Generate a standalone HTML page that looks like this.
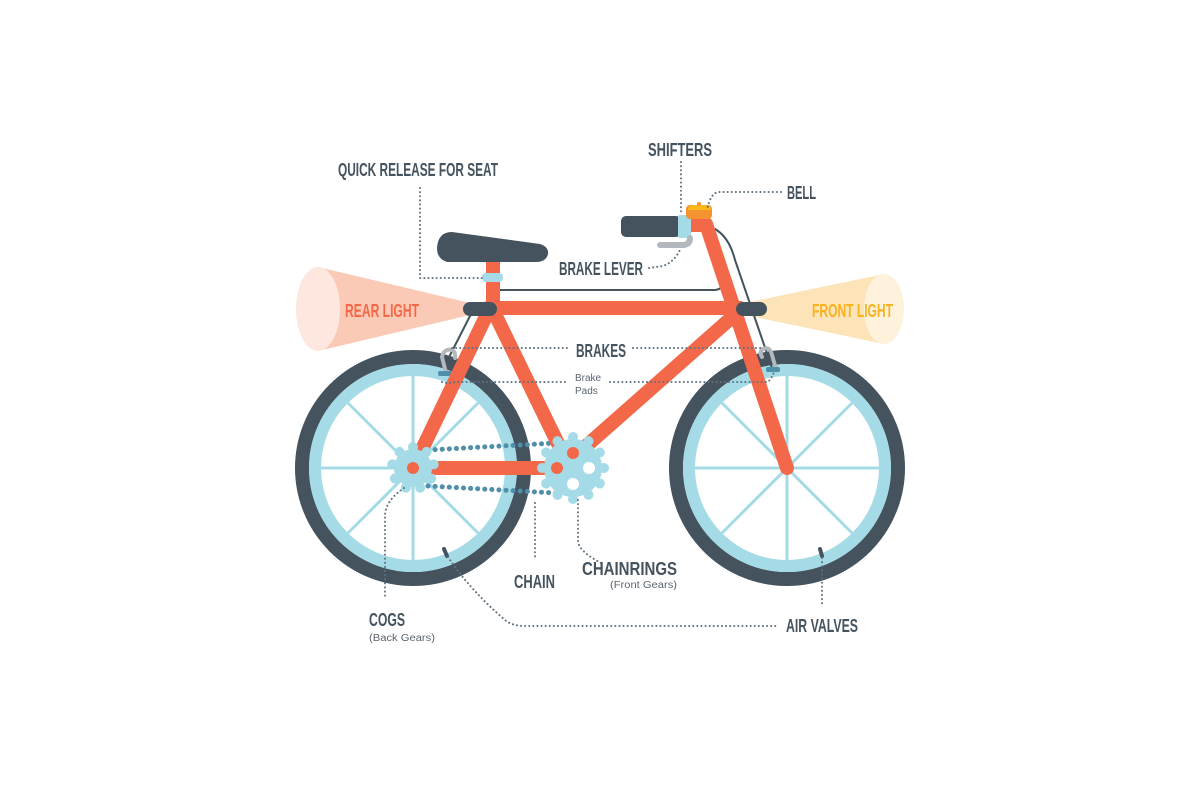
<!DOCTYPE html>
<html><head><meta charset="utf-8"><style>
html,body{margin:0;padding:0;background:#fff;}
svg{display:block}
.l{font-family:"Liberation Sans Narrow","Liberation Sans",sans-serif;font-weight:bold;fill:#44535e;font-size:18px}
.s{font-family:"Liberation Sans",sans-serif;fill:#5a6570;font-size:10px}
.d{fill:none;stroke:#5f7280;stroke-width:2;stroke-dasharray:0.1 4;stroke-linecap:round}
</style></head><body>
<svg width="1200" height="800" viewBox="0 0 1200 800" xmlns="http://www.w3.org/2000/svg">
<defs>
<circle id="t1" cx="413" cy="447" r="5" fill="#a4dbe6"/>
<circle id="t2" cx="573" cy="437" r="5" fill="#a4dbe6"/>
</defs>
<!-- lights -->
<polygon points="318,267 470,303 470,315 318,351" fill="#fbcab6"/>
<ellipse cx="318" cy="309" rx="22" ry="42" fill="#fde7df"/>
<polygon points="884,274 745,303 745,315 884,344" fill="#fde4b8"/>
<ellipse cx="884" cy="309" rx="20" ry="35" fill="#fff2dc"/>
<text class="l" x="345" y="317" textLength="74" lengthAdjust="spacingAndGlyphs" style="fill:#f26849">REAR LIGHT</text>
<text class="l" x="812" y="317" textLength="81" lengthAdjust="spacingAndGlyphs" style="fill:#f7b21d">FRONT LIGHT</text>

<!-- wheels -->
<g>
<circle cx="413" cy="468" r="111" fill="none" stroke="#44535e" stroke-width="14"/>
<circle cx="413" cy="468" r="98" fill="none" stroke="#a4dbe6" stroke-width="12"/>
<g stroke="#a4dbe6" stroke-width="3">
<line x1="321" y1="468" x2="505" y2="468"/><line x1="413" y1="376" x2="413" y2="560"/>
<line x1="348" y1="403" x2="478" y2="533"/><line x1="478" y1="403" x2="348" y2="533"/>
</g>
<circle cx="787" cy="468" r="111" fill="none" stroke="#44535e" stroke-width="14"/>
<circle cx="787" cy="468" r="98" fill="none" stroke="#a4dbe6" stroke-width="12"/>
<g stroke="#a4dbe6" stroke-width="3">
<line x1="695" y1="468" x2="879" y2="468"/><line x1="787" y1="376" x2="787" y2="560"/>
<line x1="722" y1="403" x2="852" y2="533"/><line x1="852" y1="403" x2="722" y2="533"/>
</g>
<line x1="444" y1="549" x2="447" y2="556" stroke="#44535e" stroke-width="4" stroke-linecap="round"/>
<line x1="820" y1="549" x2="822" y2="556" stroke="#44535e" stroke-width="4" stroke-linecap="round"/>
</g>

<!-- cables -->
<path d="M497,290 L715,290 Q724,289 726,280" fill="none" stroke="#44535e" stroke-width="2"/>
<path d="M708,226 Q728,232 735,260 L772,368" fill="none" stroke="#44535e" stroke-width="2"/>
<path d="M470,316 L445,365" fill="none" stroke="#44535e" stroke-width="2"/>
<path d="M490,300 L470,316" fill="none" stroke="#44535e" stroke-width="2"/>

<!-- brakes -->
<path d="M446,373 L442,357 Q444,348 452,350 Q456,352 455,358" fill="none" stroke="#b2b8bd" stroke-width="4" stroke-linecap="round"/>
<rect x="438" y="371" width="14" height="5" rx="2" fill="#4f8faa"/>
<path d="M776,369 L772,355 Q770,346 763,349 Q759,352 762,357" fill="none" stroke="#b2b8bd" stroke-width="4" stroke-linecap="round"/>
<rect x="766" y="367" width="14" height="5" rx="2" fill="#4f8faa"/>

<!-- chain -->
<line x1="428" y1="450" x2="556" y2="443" stroke="#4f8faa" stroke-width="5" stroke-dasharray="0.1 7" stroke-linecap="round"/>
<line x1="428" y1="486" x2="556" y2="493" stroke="#4f8faa" stroke-width="5" stroke-dasharray="0.1 7" stroke-linecap="round"/>

<!-- frame -->
<g stroke="#f26849" stroke-width="14" stroke-linecap="round" fill="none">
<line x1="493" y1="258" x2="493" y2="305"/>
<line x1="488" y1="308" x2="740" y2="308"/>
<line x1="490" y1="308" x2="413" y2="468"/>
<line x1="492" y1="308" x2="565" y2="458"/>
<line x1="738" y1="312" x2="568" y2="462"/>
<line x1="413" y1="468" x2="556" y2="468"/>
<line x1="706" y1="224" x2="787" y2="468"/>
</g>
<rect x="686" y="218" width="24" height="14" fill="#f26849"/>

<!-- rear cog -->
<circle cx="413" cy="468" r="19" fill="#a4dbe6"/>
<use href="#t1"/><use href="#t1" transform="rotate(40 413 468)"/><use href="#t1" transform="rotate(80 413 468)"/><use href="#t1" transform="rotate(120 413 468)"/><use href="#t1" transform="rotate(160 413 468)"/><use href="#t1" transform="rotate(200 413 468)"/><use href="#t1" transform="rotate(240 413 468)"/><use href="#t1" transform="rotate(280 413 468)"/><use href="#t1" transform="rotate(320 413 468)"/>
<circle cx="413" cy="468" r="6" fill="#f26849"/>

<!-- chainring -->
<circle cx="573" cy="468" r="29" fill="#a4dbe6"/>
<use href="#t2"/><use href="#t2" transform="rotate(30 573 468)"/><use href="#t2" transform="rotate(60 573 468)"/><use href="#t2" transform="rotate(90 573 468)"/><use href="#t2" transform="rotate(120 573 468)"/><use href="#t2" transform="rotate(150 573 468)"/><use href="#t2" transform="rotate(180 573 468)"/><use href="#t2" transform="rotate(210 573 468)"/><use href="#t2" transform="rotate(240 573 468)"/><use href="#t2" transform="rotate(270 573 468)"/><use href="#t2" transform="rotate(300 573 468)"/><use href="#t2" transform="rotate(330 573 468)"/>
<circle cx="589" cy="468" r="6" fill="#fff"/>
<circle cx="573" cy="484" r="6" fill="#fff"/>
<circle cx="573" cy="453" r="6" fill="#f26849"/>
<circle cx="557" cy="468" r="6" fill="#f26849"/>

<!-- light mounts -->
<rect x="463" y="302" width="34" height="14" rx="7" fill="#44535e"/>
<rect x="736" y="302" width="31" height="14" rx="7" fill="#44535e"/>

<!-- seat -->
<path d="M452,232 L540,244 Q549,247 548,254 Q546,262 536,262 L447,262 Q437,259 437,248 Q438,232 452,232 Z" fill="#44535e"/>
<rect x="482" y="273" width="21" height="9" rx="4" fill="#a4dbe6"/>

<!-- handlebar -->
<rect x="621" y="216" width="60" height="21" rx="5" fill="#44535e"/>
<rect x="678" y="215" width="13" height="23" rx="2" fill="#a4dbe6"/>
<rect x="686" y="205" width="26" height="14" rx="4" fill="#f4932f"/>
<path d="M688,210 Q688,205 695,205 L705,205 Q711,205 711,210 Z" fill="#fbb81b"/>
<circle cx="699" cy="204" r="2" fill="#f4932f"/>
<path d="M660,245 L684,245 Q690,244 690,238" fill="none" stroke="#b2b8bd" stroke-width="6" stroke-linecap="round"/>

<!-- leaders -->
<path class="d" d="M420,188 L420,278 L484,278"/>
<path class="d" d="M681,162 L681,214"/>
<path class="d" d="M781,192 L718,192 Q710,194 707,210"/>
<path class="d" d="M649,268 L663,266 Q674,262 680,250"/>
<path class="d" d="M452,348 L570,348"/>
<path class="d" d="M633,348 L762,348"/>
<path class="d" d="M442,382 Q448,384 455,382 L568,382"/>
<path class="d" d="M610,382 L768,382 Q772,378 774,372"/>
<path class="d" d="M535,503 L535,560"/>
<path class="d" d="M578,500 L578,542 Q580,552 601,563"/>
<path class="d" d="M404,488 Q386,500 385,515 L385,597"/>
<path class="d" d="M448,557 Q470,590 505,620 Q512,626 525,626 L778,626"/>
<path class="d" d="M822,558 L822,606"/>

<!-- labels -->
<text class="l" x="338" y="176" textLength="160" lengthAdjust="spacingAndGlyphs">QUICK RELEASE FOR SEAT</text>
<text class="l" x="648" y="156" textLength="64" lengthAdjust="spacingAndGlyphs">SHIFTERS</text>
<text class="l" x="787" y="199" textLength="29" lengthAdjust="spacingAndGlyphs">BELL</text>
<text class="l" x="559" y="275" textLength="84" lengthAdjust="spacingAndGlyphs">BRAKE LEVER</text>
<text class="l" x="576" y="357" textLength="50" lengthAdjust="spacingAndGlyphs">BRAKES</text>
<text class="s" x="575" y="381">Brake</text>
<text class="s" x="575" y="394">Pads</text>
<text class="l" x="514" y="588" textLength="41" lengthAdjust="spacingAndGlyphs">CHAIN</text>
<text class="l" x="582" y="575" textLength="95" lengthAdjust="spacingAndGlyphs">CHAINRINGS</text>
<text class="s" x="610" y="588" textLength="67" lengthAdjust="spacingAndGlyphs">(Front Gears)</text>
<text class="l" x="369" y="626" textLength="36" lengthAdjust="spacingAndGlyphs">COGS</text>
<text class="s" x="369" y="641" textLength="66" lengthAdjust="spacingAndGlyphs">(Back Gears)</text>
<text class="l" x="786" y="632" textLength="72" lengthAdjust="spacingAndGlyphs">AIR VALVES</text>
</svg>
</body></html>
